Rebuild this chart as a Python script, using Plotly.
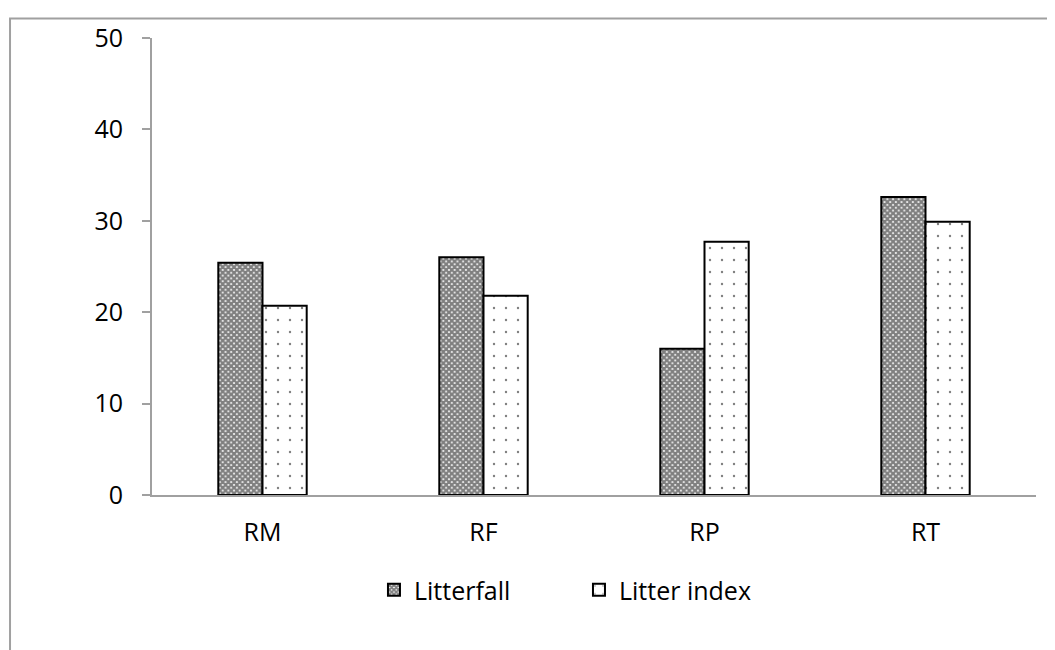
import plotly.graph_objects as go

categories = ["RM", "RF", "RP", "RT"]
litterfall = [25.4, 26.0, 16.0, 32.6]
litter_index = [20.7, 21.8, 27.7, 29.9]
y_ticks = [0, 10, 20, 30, 40, 50]

FONT = "Open Sans"

fig = go.Figure()
fig.add_trace(go.Bar(
    name="Litterfall", x=categories, y=litterfall,
    marker=dict(color="white", line=dict(color="black", width=2),
                pattern=dict(shape="x", size=4, solidity=0.8,
                             fgcolor="black", bgcolor="white", fillmode="overlay")),
))
fig.add_trace(go.Bar(
    name="Litter index", x=categories, y=litter_index,
    marker=dict(color="white", line=dict(color="black", width=2),
                pattern=dict(shape=".", size=12, solidity=0.03,
                             fgcolor="black", bgcolor="white", fillmode="overlay")),
))

fig.update_layout(
    width=1055, height=650,
    margin=dict(l=144, r=27, t=21, b=163),
    paper_bgcolor="white", plot_bgcolor="white",
    barmode="group", bargap=0.6, bargroupgap=0,
    font=dict(family=FONT, size=25, color="black"),
    showlegend=True,
    legend=dict(orientation="h", x=0.483, xanchor="center", y=-0.208, yanchor="middle",
                font=dict(size=25), itemwidth=30, entrywidth=160, traceorder="normal"),
    xaxis=dict(showline=True, linecolor="#a0a0a0", linewidth=2, ticks="",
               showgrid=False, zeroline=False, tickfont=dict(size=25),
               ticklabelstandoff=14),
    yaxis=dict(range=[0, 50], tickvals=y_ticks, showline=True, linecolor="#a0a0a0",
               linewidth=2, ticks="outside", ticklen=8, tickcolor="#a0a0a0", tickwidth=2,
               showgrid=False, zeroline=False, tickfont=dict(size=25), ticklabelstandoff=14),
    shapes=[dict(type="rect", xref="paper", yref="paper",
                 x0=-0.1606, x1=1.06, y0=-0.4, y1=1.0429,
                 line=dict(color="#a0a0a0", width=2), fillcolor="rgba(0,0,0,0)",
                 layer="below")],
)

fig.write_html("out.html")
